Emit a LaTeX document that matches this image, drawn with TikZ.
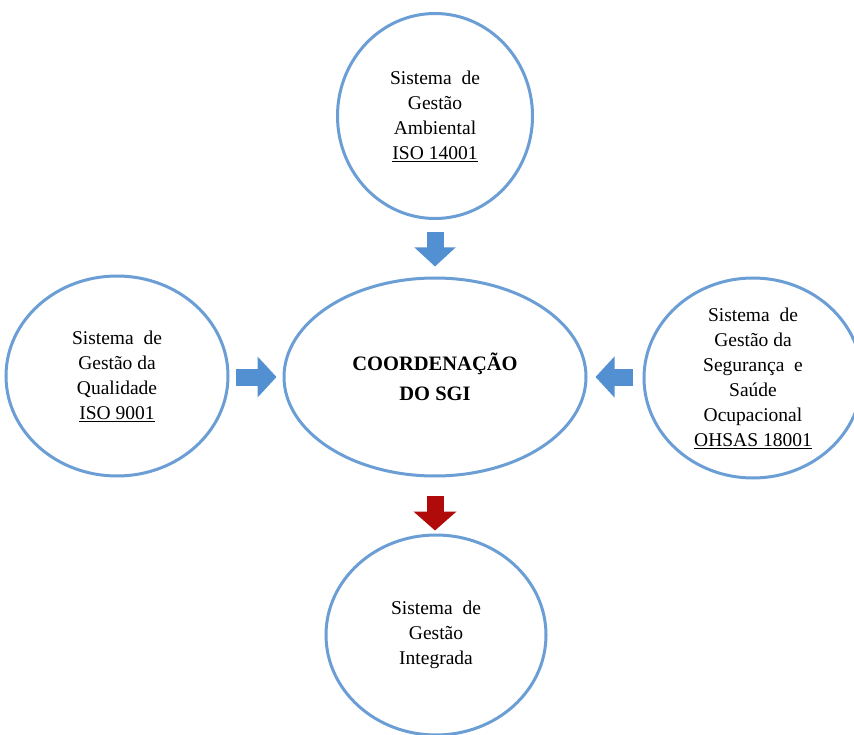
\documentclass[tikz,border=0pt]{standalone}
\usepackage{fontspec}
\setmainfont{Liberation Serif}
\usetikzlibrary{arrows.meta,shapes.geometric}
\definecolor{rim}{HTML}{6A9ED4}
\definecolor{flow}{HTML}{5390D2}
\definecolor{result}{HTML}{B00A0A}
\tikzset{
  every node/.style={text=black},
  sgi/.style={ellipse,draw=rim,line width=3pt,fill=white,inner sep=0pt,align=center,
    font=\fontsize{19.5}{25}\selectfont},
  coordbox/.style={sgi,font=\fontsize{20.5}{30}\selectfont\bfseries},
  bluearrow/.style={draw=flow,line width=17pt,-{Triangle[width=40pt,length=19pt]}},
  redarrow/.style={draw=result,line width=17pt,-{Triangle[width=42pt,length=19pt]}},
}
\begin{document}
\begin{tikzpicture}[x=1pt,y=-1pt]
  \useasboundingbox (0,0) rectangle (854,735);
  \node[coordbox,minimum width=302pt,minimum height=198pt] (coord) at (435,377) {COORDENAÇÃO\\DO SGI};
  \node[sgi,minimum width=195pt,minimum height=205pt] (amb) at (435,116) {Sistema\ \ de\\Gestão\\Ambiental\\\underline{ISO 14001}};
  \node[sgi,minimum width=222pt,minimum height=200pt] (qual) at (117,376) {Sistema\ \ de\\Gestão da\\Qualidade\\\underline{ISO 9001}};
  \node[sgi,minimum width=218pt,minimum height=200pt] (ohsas) at (753,378) {Sistema\ \ de\\Gestão da\\Segurança\ \ e\\Saúde\\Ocupacional\\\underline{OHSAS 18001}};
  \node[sgi,minimum width=220pt,minimum height=200pt] (integ) at (436,635) {Sistema\ \ de\\Gestão\\Integrada};

  \draw[bluearrow,shorten <=12pt,shorten >=10pt] (amb.south) -- (coord.north);
  \draw[bluearrow,shorten <=6pt,shorten >=6pt] (qual.east |- coord) -- (coord.west);
  \draw[bluearrow,shorten <=10pt,shorten >=8pt] (ohsas.west |- coord) -- (coord.east);
  \draw[redarrow,shorten <=18pt,shorten >=3pt] (coord.south) -- (coord.south |- integ.north);
\end{tikzpicture}
\end{document}
